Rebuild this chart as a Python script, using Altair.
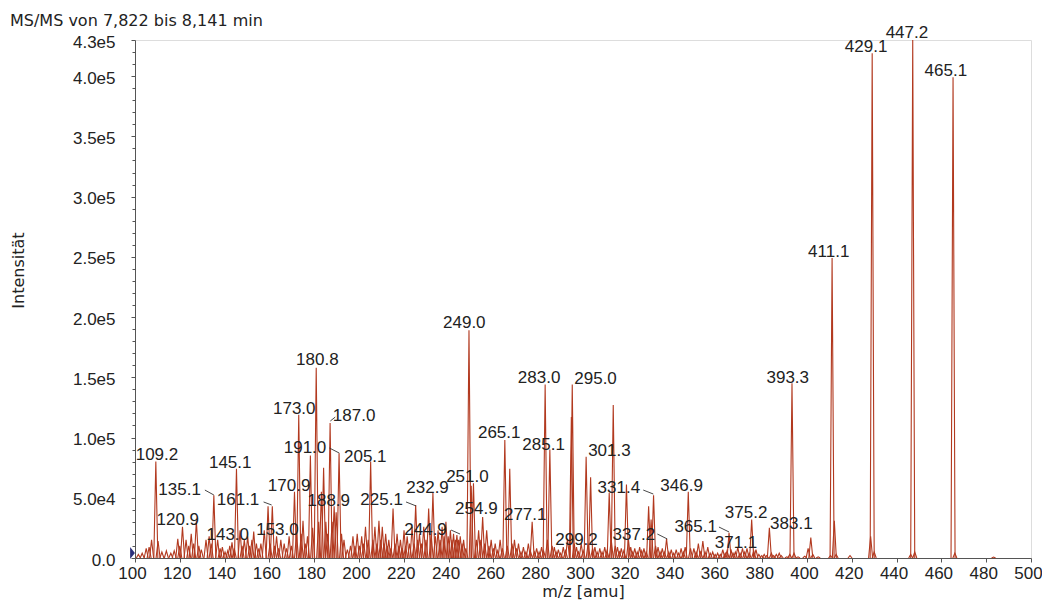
import altair as alt
import pandas as pd

# ---------------- data ----------------
peak_mz = [
    101.5, 103.2, 105.0, 106.3, 107.4, 109.3, 110.3, 112.0, 114.0, 116.0, 117.5, 119.1, 120.0,
    121.2, 122.8, 124.0, 125.1, 126.2, 127.4, 128.5, 129.6, 131.7, 133.1, 134.0, 135.2, 136.9,
    138.0, 139.0, 140.2, 141.4, 142.3, 143.3, 144.3, 145.3, 146.9, 147.8, 148.8, 150.3, 151.2,
    152.2, 153.0, 154.2, 155.3, 156.2, 157.7, 159.4, 160.3, 161.3, 162.3, 163.2, 164.1, 165.1,
    166.6, 167.6, 168.8, 169.8, 171.2, 172.1, 173.1, 174.2, 175.0, 176.0, 177.0, 178.3, 179.3,
    180.9, 182.0, 183.2, 184.2, 185.2, 186.0, 187.1, 188.0, 188.9, 189.8, 191.1, 192.2, 193.3,
    194.8, 196.2, 197.3, 198.2, 199.2, 200.2, 201.2, 202.1, 202.9, 204.1, 205.2, 206.2, 207.1,
    208.0, 208.9, 209.7, 210.4, 211.2, 211.9, 212.6, 213.3, 214.2, 215.2, 216.1, 217.0, 217.8,
    218.5, 219.3, 220.1, 220.8, 221.5, 222.6, 223.7, 224.6, 225.3, 226.2, 227.0, 227.9, 228.9,
    229.9, 231.1, 232.2, 233.0, 234.1, 235.3, 236.2, 237.1, 238.0, 238.8, 239.8, 240.8, 241.5,
    242.2, 243.0, 243.7, 244.5, 245.2, 246.0, 246.7, 247.7, 249.1, 250.1, 251.1, 252.4, 253.4,
    254.4, 255.2, 256.1, 257.0, 258.0, 259.0, 260.0, 260.8, 261.9, 263.0, 264.0, 265.1, 266.2,
    267.3, 268.3, 269.4, 270.3, 271.2, 272.3, 273.4, 274.5, 275.6, 276.5, 277.3, 278.3, 279.3,
    280.4, 281.5, 282.4, 283.1, 284.1, 285.2, 286.2, 287.2, 288.0, 289.0, 290.0, 291.2, 292.2,
    293.1, 294.8, 295.2, 296.1, 297.1, 298.0, 299.2, 300.1, 301.4, 302.3, 303.4, 304.3, 305.3,
    306.3, 307.5, 308.5, 309.7, 310.7, 311.7, 312.6, 313.5, 314.4, 315.4, 316.3, 317.1, 318.2,
    319.4, 320.3, 321.3, 322.2, 323.1, 324.2, 325.3, 326.2, 327.2, 328.2, 329.3, 330.4, 331.5,
    332.4, 333.5, 334.4, 335.4, 336.3, 337.3, 338.3, 339.4, 340.5, 341.6, 342.7, 343.8, 344.8,
    345.6, 347.0, 348.0, 349.5, 350.5, 351.5, 352.5, 353.5, 354.5, 355.7, 356.8, 357.9, 359.0,
    360.1, 361.3, 362.4, 363.5, 364.3, 365.2, 366.2, 367.0, 368.0, 369.1, 370.1, 371.2, 372.2,
    373.2, 374.2, 375.3, 376.2, 377.2, 378.5, 379.8, 380.9, 382.0, 383.2, 384.1, 385.1, 386.3,
    387.6, 388.5, 391.0, 392.3, 393.3, 394.2, 396.0, 399.0, 400.5, 401.7, 402.6, 405.0, 410.5,
    411.2, 412.2, 413.0, 419.2, 428.4, 429.1, 430.0, 446.3, 447.2, 448.1, 465.2, 466.0, 483.3,
]
peak_intensity = [
    3000, 4000, 8000, 9000, 15000, 80000, 14000, 5000, 6000, 4000, 6000, 16000, 10000,
    26000, 15000, 10000, 20000, 12000, 31000, 10000, 7000, 15000, 18000, 12000, 52000, 15000,
    8000, 9000, 5000, 6000, 10000, 13000, 8000, 74000, 23000, 10000, 15000, 18000, 10000,
    15000, 22000, 12000, 8000, 12000, 23000, 43000, 12000, 43000, 10000, 18000, 8000, 15000,
    12000, 8000, 18000, 10000, 55000, 20000, 119000, 20000, 31000, 12000, 18000, 85000, 25000,
    158000, 30000, 55000, 75000, 30000, 20000, 112000, 30000, 43000, 38000, 87000, 20000, 15000,
    7000, 10000, 18000, 10000, 20000, 10000, 18000, 12000, 26000, 15000, 80000, 15000, 26000,
    12000, 31000, 15000, 26000, 12000, 20000, 10000, 15000, 8000, 41000, 12000, 20000, 10000,
    15000, 8000, 23000, 10000, 18000, 12000, 26000, 12000, 44000, 15000, 20000, 12000, 26000,
    15000, 41000, 20000, 54000, 18000, 23000, 15000, 26000, 18000, 30000, 18000, 23000, 15000,
    20000, 15000, 19000, 15000, 18000, 12000, 15000, 8000, 189000, 60000, 62000, 15000, 23000,
    15000, 34000, 12000, 23000, 10000, 15000, 8000, 12000, 6000, 15000, 8000, 98000, 10000,
    74000, 12000, 15000, 8000, 12000, 5000, 9000, 5000, 12000, 6000, 30000, 5000, 8000,
    5000, 9000, 6000, 144000, 15000, 90000, 10000, 9000, 5000, 7000, 4000, 9000, 6000,
    16000, 117000, 144000, 12000, 9000, 5000, 12000, 6000, 84000, 12000, 67000, 8000, 9000,
    5000, 8000, 5000, 9000, 6000, 54000, 15000, 127000, 10000, 9000, 5000, 8000, 6000,
    61000, 15000, 9000, 5000, 8000, 5000, 9000, 6000, 8000, 5000, 43000, 32000, 52000,
    10000, 9000, 5000, 8000, 5000, 16000, 5000, 7000, 4000, 7000, 4000, 8000, 5000,
    9000, 55000, 8000, 8000, 5000, 12000, 5000, 14000, 5000, 9000, 4000, 5000, 3000,
    4000, 3000, 7000, 4000, 6000, 21000, 6000, 4000, 5000, 9000, 4000, 8000, 5000,
    8000, 4000, 32000, 6000, 7000, 3000, 2000, 3000, 2000, 25000, 4000, 2000, 3000,
    4000, 2000, 1000, 3000, 145000, 4000, 1000, 1500, 8000, 17000, 3000, 1000, 2000,
    249000, 31000, 3000, 2000, 18000, 419000, 5000, 3000, 430000, 5000, 399000, 4000, 800,
]

label_text = [
    "109.2", "120.9", "135.1", "143.0", "145.1", "153.0", "161.1", "170.9", "173.0", "180.8",
    "187.0", "191.0", "188.9", "205.1", "225.1", "232.9", "244.9", "249.0", "251.0", "254.9",
    "265.1", "277.1", "283.0", "285.1", "295.0", "299.2", "301.3", "331.4", "337.2", "346.9",
    "365.1", "371.1", "375.2", "383.1", "393.3", "411.1", "429.1", "447.2", "465.1",
]
label_mz = [
    109.8, 119.1, 119.9, 141.4, 142.5, 163.6, 146.0, 168.8, 171.1, 181.4,
    197.8, 175.9, 186.5, 202.8, 210.1, 230.6, 229.7, 247.0, 248.4, 252.4,
    262.6, 274.2, 280.4, 282.4, 305.6, 297.1, 311.8, 316.0, 322.7, 344.0,
    350.3, 368.3, 372.8, 393.0, 391.4, 409.7, 426.4, 444.6, 462.0,
]
label_intensity = [
    85500, 31500, 56400, 19100, 78800, 23200, 48100, 59800, 123700, 164300,
    117800, 91300, 47300, 83800, 48100, 58100, 23200, 195000, 67200, 40700,
    103700, 35700, 149400, 93800, 148500, 14900, 88800, 58100, 19100, 59800,
    25700, 12400, 37300, 28200, 149400, 253900, 424100, 435700, 404100,
]

# short connector lines between displaced labels and their peaks
leader_mz_start = [131.2, 157.4, 187.2, 186.8, 221.0, 241.1, 326.9, 333.2, 360.7]
leader_int_start = [56400, 46500, 113700, 91300, 46500, 23200, 56400, 19900, 25700]
leader_mz_end = [135.2, 161.0, 189.4, 191.2, 225.5, 245.1, 331.4, 337.6, 365.2]
leader_int_end = [52300, 44000, 117000, 87100, 43200, 19900, 53100, 15800, 21600]

title_text = "MS/MS von 7,822 bis 8,141 min"
x_title = "m/z [amu]"
y_title = "Intensität"

X_DOMAIN = [100, 500]
Y_DOMAIN = [0, 430000]
x_tick_values = list(range(100, 501, 10))
y_major_values = list(range(0, 400001, 50000)) + [430000]
y_minor_values = [v for v in range(0, 430001, 10000) if v not in y_major_values]

# ---------------- build tables ----------------
HALF_WIDTH = 0.9
rows = []
for i, (m, h) in enumerate(zip(peak_mz, peak_intensity)):
    rows.append({"pid": i, "k": 0, "mz": m - HALF_WIDTH, "I": 0})
    rows.append({"pid": i, "k": 1, "mz": m, "I": h})
    rows.append({"pid": i, "k": 2, "mz": m + HALF_WIDTH, "I": 0})
profile = pd.DataFrame(rows)

labels = pd.DataFrame({"text": label_text, "mz": label_mz, "I": label_intensity})
leaders = pd.DataFrame({"x1": leader_mz_start, "y1": leader_int_start,
                        "x2": leader_mz_end, "y2": leader_int_end})

LINE = "#b2391f"
FILL = "#eab5a8"
NUM_FONT = "Liberation Sans"
TXT_FONT = "DejaVu Sans"
AXIS_GREY = "#555"

xscale = alt.Scale(domain=X_DOMAIN, nice=False, zero=False)
yscale = alt.Scale(domain=Y_DOMAIN, nice=False)

x_axis = alt.Axis(
    values=x_tick_values, format="d",
    labelExpr="datum.value % 20 == 0 ? datum.label : ''",
    tickSize=4, labelPadding=3, labelFlush=False, labelOverlap=False, labelOffset=-3,
    labelFont=NUM_FONT, labelFontSize=17, labelColor="#222",
    domainColor=AXIS_GREY, tickColor=AXIS_GREY, grid=False,
    title=x_title, titleFont=TXT_FONT, titleFontSize=16, titleFontWeight="normal",
    titleColor="#222", titleBaseline="middle", titleY=33,
)
y_axis_major = alt.Axis(
    orient="left", values=y_major_values,
    labelExpr="datum.value == 0 ? '0.0' : replace(format(datum.value, '.1e'), '+', '')",
    tickSize=4, labelPadding=16, labelOverlap=False, labelFlush=False, labelOffset=2,
    labelFont=NUM_FONT, labelFontSize=17, labelColor="#222",
    domainColor=AXIS_GREY, tickColor=AXIS_GREY, grid=False,
    title=y_title, titleFont=TXT_FONT, titleFontSize=16, titleFontWeight="normal",
    titleColor="#222", titleX=-117, titleY=230, titleBaseline="middle",
)
y_axis_minor = alt.Axis(
    orient="left", values=y_minor_values, labels=False, domain=False,
    tickSize=3, tickColor=AXIS_GREY, grid=False, title=None,
)

base = alt.Chart(profile)
area = base.mark_area(color=FILL, opacity=0.85).encode(
    x=alt.X("mz:Q", scale=xscale, axis=x_axis),
    y=alt.Y("I:Q", scale=yscale, axis=y_axis_major, stack=None),
    detail="pid:N",
    order="k:Q",
)
line = base.mark_line(color=LINE, strokeWidth=1.1).encode(
    x=alt.X("mz:Q", scale=xscale),
    y=alt.Y("I:Q", scale=yscale, axis=y_axis_minor, stack=None),
    detail="pid:N",
    order="k:Q",
)
text = alt.Chart(labels).mark_text(
    align="center", baseline="middle", font=NUM_FONT, fontSize=17, color="#222"
).encode(
    x=alt.X("mz:Q", scale=xscale),
    y=alt.Y("I:Q", scale=yscale, axis=None),
    text="text:N",
)
lead = alt.Chart(leaders).mark_rule(color="#333", strokeWidth=0.9).encode(
    x=alt.X("x1:Q", scale=xscale), y=alt.Y("y1:Q", scale=yscale, axis=None),
    x2="x2:Q", y2="y2:Q",
)
marker = alt.Chart(pd.DataFrame({"mz": [X_DOMAIN[0]], "I": [Y_DOMAIN[0]]})).mark_point(
    shape="M-0.4,-1L0.4,0L-0.4,1Z", size=144, filled=True, color="#2b2f7a",
    opacity=1, xOffset=-2.5, yOffset=-5,
).encode(
    x=alt.X("mz:Q", scale=xscale),
    y=alt.Y("I:Q", scale=yscale, axis=None),
)

chart = alt.layer(area, line, lead, text, marker).resolve_axis(
    y="independent"
).properties(
    width=896, height=518,
    title=alt.TitleParams(
        title_text, anchor="start", frame="bounds", font=TXT_FONT, fontSize=16,
        fontWeight="normal", color="#222", offset=-5,
    ),
    autosize=alt.AutoSizeParams(type="none"),
    padding={"left": 127, "top": 32, "right": 11, "bottom": 42},
).configure_view(stroke=None).configure(background="white")

chart.save("out.html", embed_options={"renderer": "svg", "actions": False})
